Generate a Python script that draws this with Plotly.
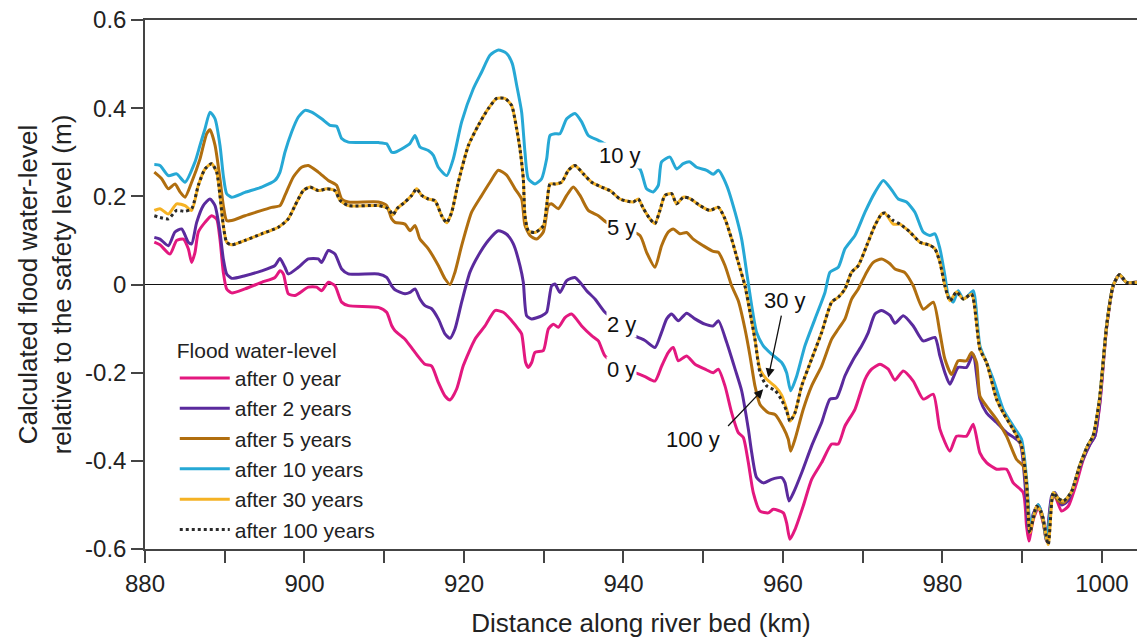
import plotly.graph_objects as go

# ---------------- data ----------------
km_0y = [881.17, 881.88, 883.13, 883.97, 884.81, 885.43, 885.85, 886.27, 886.69, 887.52, 888.36, 888.99, 889.40,
         889.82, 890.24, 890.87, 892.54, 894.63, 896.30, 896.93, 897.35, 897.97, 898.81, 900.48, 901.53, 902.15,
         902.99, 903.82, 904.66, 905.50, 909.26, 910.30, 910.93, 911.35, 912.60, 913.86, 915.11, 915.95, 916.78,
         917.62, 918.25, 919.08, 919.92, 921.38, 922.64, 923.89, 924.93, 925.98, 926.82, 927.23, 927.73, 928.07,
         928.49, 928.91, 929.95, 930.58, 931.20, 931.83, 932.67, 933.50, 934.76, 936.01, 936.85, 937.68, 939.77,
         941.44, 942.70, 943.95, 944.79, 945.63, 946.25, 946.88, 947.92, 948.97, 950.22, 951.27, 951.90, 952.73,
         953.57, 954.40, 955.03, 955.66, 956.28, 957.12, 958.17, 958.79, 960.05, 960.46, 960.88, 961.51, 962.55,
         963.60, 964.85, 966.11, 966.94, 967.78, 969.03, 970.29, 971.12, 972.17, 973.21, 974.05, 975.09, 976.34,
         977.59, 978.85, 979.68, 980.94, 981.77, 983.03, 983.86, 984.70, 985.53, 986.79, 988.04, 988.88, 990.13,
         990.55, 990.84, 991.39, 992.01, 992.64, 993.06, 993.69, 994.10, 994.94, 995.78, 996.82, 997.66, 998.49,
         999.12, 999.75, 1000.58, 1001.42, 1002.17, 1003.09, 1004.40]
wl_0y = [0.096, 0.090, 0.069, 0.100, 0.103, 0.081, 0.050, 0.073, 0.119, 0.141, 0.156, 0.148, 0.103,
         0.028, -0.010, -0.019, -0.010, 0.005, 0.016, 0.031, 0.024, -0.021, -0.025, -0.006, -0.006, -0.014,
         0.005, -0.003, -0.040, -0.048, -0.052, -0.063, -0.093, -0.105, -0.124, -0.154, -0.181, -0.185, -0.222,
         -0.253, -0.262, -0.237, -0.184, -0.124, -0.094, -0.059, -0.063, -0.082, -0.101, -0.112, -0.177, -0.188,
         -0.177, -0.154, -0.150, -0.101, -0.090, -0.097, -0.075, -0.067, -0.094, -0.116, -0.128, -0.162, -0.190,
         -0.200, -0.209, -0.219, -0.185, -0.154, -0.143, -0.173, -0.162, -0.181, -0.192, -0.200, -0.192, -0.230,
         -0.291, -0.336, -0.347, -0.404, -0.472, -0.514, -0.518, -0.510, -0.518, -0.541, -0.578, -0.556, -0.502,
         -0.442, -0.404, -0.362, -0.362, -0.321, -0.283, -0.215, -0.192, -0.181, -0.192, -0.217, -0.196, -0.219,
         -0.260, -0.249, -0.328, -0.378, -0.344, -0.344, -0.317, -0.382, -0.404, -0.419, -0.419, -0.450, -0.472,
         -0.548, -0.582, -0.533, -0.507, -0.541, -0.582, -0.488, -0.480, -0.514, -0.503, -0.450, -0.397, -0.363,
         -0.344, -0.270, -0.100, -0.003, 0.022, 0.005, 0.005]

km_2y = [881.17, 881.88, 882.93, 883.76, 884.60, 885.43, 885.85, 886.48, 887.31, 888.15, 888.78, 889.40, 889.82,
         890.24, 890.87, 892.54, 894.63, 896.30, 896.93, 897.55, 897.97, 899.23, 900.48, 901.73, 902.15, 902.99,
         903.82, 904.66, 905.50, 909.26, 910.30, 910.93, 911.35, 912.60, 913.23, 913.86, 914.48, 915.11, 915.95,
         916.78, 917.62, 918.25, 918.87, 919.71, 920.75, 921.80, 923.05, 924.31, 925.35, 926.19, 927.02, 927.44,
         927.86, 928.49, 929.74, 930.37, 930.99, 931.41, 932.04, 932.88, 933.92, 934.55, 935.38, 936.43, 937.68,
         939.77, 941.44, 942.70, 943.95, 944.79, 945.42, 946.04, 946.88, 947.92, 948.97, 950.22, 951.27, 951.90,
         952.94, 954.00, 954.82, 955.66, 956.08, 956.70, 957.54, 958.58, 959.84, 960.26, 960.76, 961.30, 962.35,
         963.60, 964.85, 965.90, 966.73, 967.78, 968.82, 969.87, 970.70, 971.54, 972.38, 973.42, 974.05, 975.09,
         976.34, 977.59, 979.06, 979.68, 980.31, 980.94, 981.98, 983.03, 983.86, 984.70, 985.53, 986.79, 988.04,
         989.71, 990.34, 990.84, 991.39, 992.01, 992.64, 993.06, 993.69, 994.10, 994.94, 995.78, 996.82, 997.66,
         998.49, 999.12, 999.75, 1000.58, 1001.42, 1002.17, 1003.09, 1004.40]
wl_2y = [0.107, 0.103, 0.088, 0.119, 0.126, 0.096, 0.092, 0.141, 0.179, 0.194, 0.179, 0.119, 0.058,
         0.024, 0.014, 0.020, 0.031, 0.043, 0.059, 0.039, 0.024, 0.039, 0.058, 0.058, 0.050, 0.077,
         0.069, 0.035, 0.024, 0.024, 0.016, -0.003, -0.012, -0.021, -0.018, -0.010, -0.033, -0.048, -0.055,
         -0.078, -0.112, -0.122, -0.101, -0.040, 0.028, 0.066, 0.100, 0.122, 0.114, 0.092, 0.043, 0.005,
         -0.071, -0.078, -0.071, -0.063, -0.003, 0.001, -0.018, 0.009, 0.016, 0.005, -0.014, -0.033, -0.063,
         -0.090, -0.116, -0.127, -0.143, -0.108, -0.078, -0.067, -0.082, -0.065, -0.078, -0.090, -0.094, -0.082,
         -0.131, -0.192, -0.241, -0.328, -0.381, -0.438, -0.450, -0.442, -0.438, -0.450, -0.491, -0.473, -0.427,
         -0.366, -0.313, -0.260, -0.257, -0.207, -0.170, -0.139, -0.109, -0.067, -0.059, -0.070, -0.088, -0.071,
         -0.094, -0.128, -0.120, -0.162, -0.200, -0.226, -0.188, -0.188, -0.158, -0.260, -0.291, -0.313, -0.336,
         -0.359, -0.450, -0.560, -0.520, -0.500, -0.530, -0.575, -0.480, -0.472, -0.500, -0.490, -0.435, -0.395,
         -0.363, -0.344, -0.265, -0.095, -0.003, 0.022, 0.005, 0.005]

km_5y = [881.17, 882.09, 882.93, 883.76, 884.39, 885.02, 885.85, 886.90, 887.73, 888.15, 888.78, 889.40, 889.82,
         890.24, 890.87, 892.54, 894.63, 895.88, 896.93, 897.55, 898.60, 899.64, 900.48, 901.73, 902.99, 904.03,
         904.66, 905.50, 909.26, 910.30, 910.93, 911.35, 912.60, 913.23, 913.86, 914.48, 915.53, 916.78, 917.62,
         918.25, 918.87, 919.71, 920.96, 922.22, 923.26, 924.31, 925.35, 926.40, 927.23, 927.65, 928.28, 929.11,
         929.95, 930.58, 930.99, 931.83, 932.88, 933.71, 934.55, 935.59, 936.85, 937.89, 939.77, 942.07, 942.90,
         943.95, 944.78, 945.62, 946.25, 947.08, 947.92, 948.75, 950.01, 951.26, 951.90, 952.73, 953.57, 954.40,
         955.24, 955.87, 956.49, 957.12, 958.17, 959.00, 960.05, 960.67, 960.97, 961.51, 962.55, 963.60, 964.85,
         966.11, 966.94, 967.78, 968.61, 969.45, 970.50, 971.33, 972.38, 973.42, 974.05, 975.29, 976.34, 977.59,
         978.85, 979.68, 980.31, 981.15, 981.98, 983.03, 983.65, 984.28, 984.70, 985.53, 986.79, 988.04, 989.30,
         990.13, 990.60, 991.00, 991.40, 992.00, 992.60, 993.06, 993.50, 993.90, 994.50, 995.20, 996.20, 997.20,
         998.20, 998.90, 999.70, 1000.60, 1001.40, 1002.20, 1003.10, 1004.40]
wl_5y = [0.255, 0.240, 0.217, 0.228, 0.210, 0.198, 0.232, 0.285, 0.342, 0.351, 0.316, 0.240, 0.179,
         0.145, 0.145, 0.156, 0.168, 0.175, 0.179, 0.202, 0.244, 0.266, 0.270, 0.255, 0.236, 0.225,
         0.194, 0.187, 0.187, 0.179, 0.149, 0.141, 0.137, 0.122, 0.134, 0.103, 0.081, 0.043, 0.013,
         0.000, 0.028, 0.088, 0.164, 0.202, 0.232, 0.259, 0.248, 0.217, 0.194, 0.134, 0.111, 0.103,
         0.119, 0.179, 0.183, 0.172, 0.202, 0.221, 0.202, 0.168, 0.156, 0.141, 0.130, 0.111, 0.073,
         0.039, 0.088, 0.119, 0.126, 0.115, 0.118, 0.103, 0.088, 0.075, 0.073, 0.043, -0.003, -0.037,
         -0.101, -0.162, -0.230, -0.272, -0.291, -0.295, -0.325, -0.351, -0.378, -0.351, -0.283, -0.230, -0.185,
         -0.124, -0.101, -0.078, -0.033, -0.010, 0.028, 0.050, 0.058, 0.047, 0.035, 0.027, -0.003, -0.056,
         -0.040, -0.109, -0.169, -0.204, -0.173, -0.173, -0.154, -0.177, -0.253, -0.276, -0.306, -0.344, -0.397,
         -0.412, -0.470, -0.550, -0.530, -0.500, -0.535, -0.580, -0.520, -0.475, -0.490, -0.495, -0.470, -0.412,
         -0.366, -0.343, -0.260, -0.093, -0.003, 0.022, 0.005, 0.005]

km_10y = [881.17, 881.88, 882.93, 883.97, 885.02, 886.27, 886.90, 887.52, 888.15, 888.78, 889.40, 889.82, 890.24,
          890.87, 892.54, 894.63, 896.30, 896.93, 897.55, 898.39, 899.23, 900.06, 900.90, 902.15, 903.20, 904.03,
          904.66, 905.50, 909.26, 910.30, 910.93, 911.35, 912.60, 913.23, 913.86, 914.48, 915.53, 916.16, 916.78,
          917.83, 918.66, 919.71, 921.17, 922.22, 923.26, 924.31, 925.35, 926.06, 926.61, 927.23, 927.65, 928.07,
          928.91, 929.74, 930.37, 930.79, 931.41, 932.04, 932.88, 933.92, 934.76, 935.59, 936.85, 937.68, 939.56,
          942.07, 942.90, 943.74, 944.37, 944.78, 945.83, 946.66, 947.50, 948.34, 949.17, 950.43, 951.26, 951.90,
          952.94, 953.99, 954.82, 955.45, 956.08, 956.70, 957.54, 958.58, 959.84, 960.46, 960.97, 961.72, 962.76,
          964.02, 965.27, 965.90, 966.94, 967.78, 969.03, 970.29, 971.54, 972.59, 973.62, 974.46, 975.50, 976.55,
          977.59, 978.43, 979.06, 979.69, 980.31, 980.73, 981.36, 981.98, 982.61, 983.24, 983.87, 984.70, 985.53,
          986.37, 987.62, 988.88, 989.92, 990.60, 991.00, 991.40, 992.00, 992.60, 993.06, 993.50, 993.90, 994.50,
          995.20, 996.20, 997.20, 998.20, 998.90, 999.70, 1000.60, 1001.40, 1002.20, 1003.10, 1004.40]
wl_10y = [0.272, 0.270, 0.247, 0.251, 0.232, 0.278, 0.316, 0.353, 0.391, 0.376, 0.316, 0.247, 0.206,
          0.198, 0.209, 0.221, 0.236, 0.255, 0.300, 0.346, 0.380, 0.395, 0.391, 0.376, 0.361, 0.359,
          0.331, 0.323, 0.322, 0.319, 0.300, 0.300, 0.312, 0.320, 0.338, 0.312, 0.304, 0.293, 0.266,
          0.247, 0.285, 0.369, 0.444, 0.482, 0.520, 0.532, 0.524, 0.501, 0.452, 0.391, 0.300, 0.240,
          0.228, 0.240, 0.285, 0.338, 0.342, 0.342, 0.376, 0.388, 0.369, 0.338, 0.327, 0.319, 0.293,
          0.262, 0.217, 0.210, 0.225, 0.278, 0.289, 0.262, 0.274, 0.278, 0.266, 0.259, 0.250, 0.259,
          0.225, 0.164, 0.103, 0.028, -0.048, -0.109, -0.139, -0.158, -0.177, -0.200, -0.241, -0.208, -0.139,
          -0.078, -0.018, 0.028, 0.039, 0.081, 0.111, 0.164, 0.209, 0.236, 0.215, 0.194, 0.187, 0.164,
          0.119, 0.111, 0.115, 0.081, 0.020, -0.025, -0.040, -0.014, -0.033, -0.025, -0.014, -0.139, -0.177,
          -0.215, -0.283, -0.321, -0.351, -0.450, -0.545, -0.525, -0.499, -0.530, -0.580, -0.520, -0.472, -0.485,
          -0.491, -0.470, -0.412, -0.366, -0.343, -0.260, -0.093, -0.003, 0.022, 0.005, 0.005]

km_30y = [881.17, 881.88, 882.93, 883.97, 885.02, 885.85, 886.69, 887.52, 888.36, 888.99, 889.40, 889.82, 890.24,
          890.87, 892.54, 894.63, 896.72, 897.97, 898.81, 899.85, 900.69, 901.73, 902.78, 903.82, 904.45, 905.50,
          909.26, 910.51, 911.10, 911.60, 912.60, 913.44, 914.07, 914.70, 915.53, 916.37, 917.20, 917.83, 918.46,
          919.29, 920.55, 921.80, 923.05, 924.10, 925.14, 925.98, 926.61, 927.02, 927.44, 927.65, 928.07, 928.91,
          929.95, 930.37, 930.79, 931.41, 932.25, 933.09, 933.92, 934.97, 936.01, 937.27, 938.40, 939.56, 941.23,
          941.86, 942.48, 943.32, 943.95, 944.57, 945.20, 946.04, 946.66, 947.50, 948.34, 949.59, 950.84, 951.90,
          952.73, 953.57, 954.40, 955.24, 955.87, 956.49, 957.12, 957.96, 959.00, 959.84, 960.46, 960.88, 961.51,
          962.35, 963.60, 964.85, 966.11, 966.94, 967.78, 968.61, 969.45, 970.50, 971.54, 972.38, 972.79, 973.83,
          974.67, 975.92, 977.18, 978.43, 979.06, 979.69, 980.31, 980.94, 981.77, 982.61, 983.66, 984.70, 985.53,
          986.79, 987.62, 988.88, 989.92, 990.55, 990.97, 991.80, 992.43, 993.27, 993.90, 994.50, 995.20, 996.20,
          997.20, 998.20, 998.90, 999.70, 1000.60, 1001.40, 1002.20, 1003.10, 1004.40]
wl_30y = [0.168, 0.172, 0.160, 0.183, 0.179, 0.168, 0.225, 0.262, 0.274, 0.255, 0.202, 0.134, 0.096,
          0.090, 0.100, 0.115, 0.130, 0.149, 0.179, 0.213, 0.221, 0.213, 0.217, 0.213, 0.191, 0.179,
          0.179, 0.172, 0.158, 0.172, 0.187, 0.202, 0.217, 0.202, 0.194, 0.190, 0.156, 0.140, 0.164,
          0.232, 0.315, 0.361, 0.399, 0.422, 0.422, 0.406, 0.353, 0.308, 0.240, 0.156, 0.122, 0.118,
          0.133, 0.179, 0.228, 0.228, 0.232, 0.259, 0.270, 0.251, 0.232, 0.221, 0.212, 0.194, 0.187,
          0.194, 0.173, 0.149, 0.138, 0.168, 0.202, 0.206, 0.183, 0.198, 0.195, 0.179, 0.168, 0.175,
          0.149, 0.103, 0.050, -0.003, -0.063, -0.124, -0.192, -0.215, -0.231, -0.251, -0.283, -0.310, -0.291,
          -0.230, -0.169, -0.109, -0.040, -0.029, -0.010, 0.028, 0.043, 0.088, 0.134, 0.160, 0.162, 0.137,
          0.137, 0.119, 0.096, 0.089, 0.081, 0.050, -0.003, -0.037, -0.017, -0.033, -0.022, -0.147, -0.177,
          -0.260, -0.291, -0.329, -0.366, -0.450, -0.563, -0.503, -0.518, -0.590, -0.472, -0.485, -0.491, -0.470,
          -0.412, -0.366, -0.343, -0.260, -0.093, -0.003, 0.022, 0.005, 0.005]

km_100y = km_30y
wl_100y = [0.156, 0.152, 0.149, 0.168, 0.166, 0.172, 0.225, 0.262, 0.274, 0.255, 0.202, 0.134, 0.096,
           0.090, 0.100, 0.115, 0.130, 0.149, 0.179, 0.213, 0.221, 0.213, 0.217, 0.213, 0.191, 0.179,
           0.179, 0.172, 0.158, 0.172, 0.187, 0.202, 0.217, 0.202, 0.194, 0.190, 0.156, 0.140, 0.164,
           0.232, 0.315, 0.361, 0.399, 0.422, 0.422, 0.406, 0.353, 0.308, 0.240, 0.156, 0.122, 0.118,
           0.133, 0.179, 0.228, 0.228, 0.232, 0.259, 0.270, 0.251, 0.232, 0.221, 0.212, 0.194, 0.187,
           0.194, 0.173, 0.149, 0.138, 0.168, 0.202, 0.206, 0.183, 0.198, 0.195, 0.179, 0.168, 0.175,
           0.149, 0.103, 0.050, -0.003, -0.063, -0.124, -0.200, -0.230, -0.240, -0.262, -0.287, -0.310, -0.291,
           -0.230, -0.169, -0.109, -0.040, -0.029, -0.010, 0.028, 0.043, 0.088, 0.134, 0.160, 0.162, 0.145,
           0.137, 0.119, 0.096, 0.089, 0.081, 0.050, -0.003, -0.037, -0.017, -0.033, -0.022, -0.147, -0.177,
           -0.260, -0.291, -0.329, -0.366, -0.450, -0.563, -0.503, -0.518, -0.590, -0.472, -0.485, -0.491, -0.470,
           -0.412, -0.366, -0.343, -0.260, -0.093, -0.003, 0.022, 0.005, 0.005]

series_names = ["after 0 year", "after 2 years", "after 5 years", "after 10 years", "after 30 years", "after 100 years"]
series_colors = ["#E3187F", "#5A2A9D", "#B06E0F", "#26A8D5", "#F5B224", "#2B2B2B"]

x_tick_vals = [880, 890, 900, 910, 920, 930, 940, 950, 960, 970, 980, 990, 1000]
x_tick_text = ["880", "", "900", "", "920", "", "940", "", "960", "", "980", "", "1000"]
y_tick_vals = [-0.6, -0.4, -0.2, 0, 0.2, 0.4, 0.6]
y_tick_text = ["-0.6", "-0.4", "-0.2", "0", "0.2", "0.4", "0.6"]

curve_labels = ["10 y", "5 y", "2 y", "0 y"]
curve_label_km = [939.56, 939.77, 939.77, 939.77]
curve_label_wl = [0.293, 0.130, -0.090, -0.192]

# ---------------- figure ----------------
FONT = "Liberation Sans, Arial, sans-serif"
fig = go.Figure()

data = [(km_0y, wl_0y), (km_2y, wl_2y), (km_5y, wl_5y), (km_10y, wl_10y), (km_30y, wl_30y), (km_100y, wl_100y)]
for i, (xs, ys) in enumerate(data):
    dash = "dot" if i == 5 else "solid"
    fig.add_trace(go.Scatter(
        x=xs, y=ys, mode="lines", name=series_names[i],
        line=dict(color=series_colors[i], width=3, dash=dash, shape="spline", smoothing=0.6),
    ))

for t, xk, yv in zip(curve_labels, curve_label_km, curve_label_wl):
    fig.add_annotation(x=xk, y=yv, text=t, showarrow=False, bgcolor="white",
                       font=dict(family=FONT, size=22, color="#111"), borderpad=0)

# 30 y label and arrow
fig.add_annotation(x=960.25, y=-0.037, text="30 y", showarrow=False, bgcolor="white",
                   font=dict(family=FONT, size=22, color="#111"), borderpad=0)
fig.add_annotation(x=958.16, y=-0.211, ax=959.84, ay=-0.067, axref="x", ayref="y",
                   text="", showarrow=True, arrowhead=2, arrowsize=1.4, arrowwidth=1.3, arrowcolor="#111")
# 100 y label and arrow
fig.add_annotation(x=948.75, y=-0.352, text="100 y", showarrow=False, bgcolor="white",
                   font=dict(family=FONT, size=22, color="#111"), borderpad=0)
fig.add_annotation(x=957.53, y=-0.2375, ax=952.94, ay=-0.3245, axref="x", ayref="y",
                   text="", showarrow=True, arrowhead=2, arrowsize=1.4, arrowwidth=1.3, arrowcolor="#111")

fig.update_layout(
    width=1137, height=638,
    margin=dict(l=145, r=0, t=20, b=89, autoexpand=False),
    paper_bgcolor="white", plot_bgcolor="white",
    font=dict(family=FONT, size=22, color="#222"),
    showlegend=True,
    legend=dict(
        x=0.03, y=0.413, xanchor="left", yanchor="top",
        bgcolor="rgba(0,0,0,0)", font=dict(family=FONT, size=21, color="#222"),
        title=dict(text="Flood water-level", font=dict(family=FONT, size=21, color="#222")),
        itemwidth=50, tracegroupgap=0,
    ),
    xaxis=dict(
        range=[880, 1004.4], tickvals=x_tick_vals, ticktext=x_tick_text,
        ticks="outside", ticklen=12, tickwidth=1.5, tickcolor="#444",
        showline=True, linecolor="#444", linewidth=1.5, mirror=True,
        showgrid=False, zeroline=False, automargin=False,
        tickfont=dict(family=FONT, size=24, color="#222"),
        title=dict(text="Distance along river bed (km)", font=dict(family=FONT, size=26, color="#222"), standoff=18),
    ),
    yaxis=dict(
        range=[-0.6, 0.6], tickvals=y_tick_vals, ticktext=y_tick_text,
        ticks="outside", ticklen=12, tickwidth=1.5, tickcolor="#444",
        showline=True, linecolor="#444", linewidth=1.5,
        showgrid=False, zeroline=True, zerolinecolor="#111", zerolinewidth=1.2, automargin=False,
        tickfont=dict(family=FONT, size=24, color="#222"),
        title=dict(text="Calculated flood water-level<br>relative to the safety level (m)",
                   font=dict(family=FONT, size=26, color="#222"), standoff=6),
    ),
)

fig.write_html("out.html", config={"displayModeBar": False},
               post_script="document.body.style.margin='0px';document.body.style.overflow='hidden';")
